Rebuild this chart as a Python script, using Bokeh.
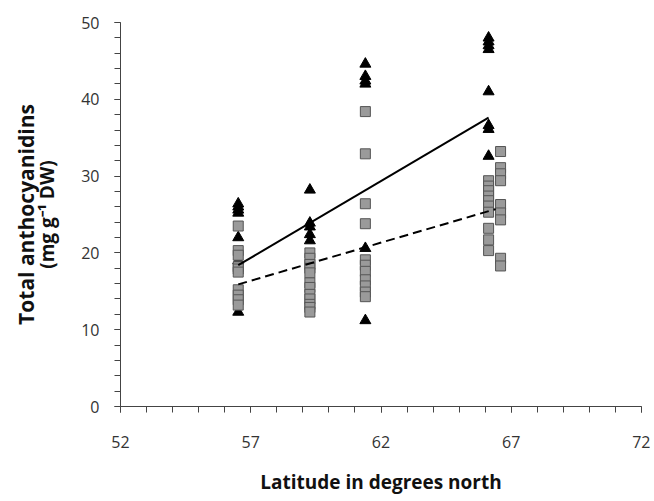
from bokeh.plotting import figure
from bokeh.models import Range1d, FixedTicker, SingleIntervalTicker, LinearAxis
from bokeh.embed import file_html
from bokeh.resources import INLINE

# ---- data ----
lat_sites = [56.52, 59.27, 61.40, 66.13]
lat_sq_right = 66.59

tri_col1 = [26.4, 26.0, 25.6, 25.2, 22.0, 19.0, 12.3]
tri_col2 = [28.2, 23.9, 23.4, 22.4, 21.6]
tri_col3 = [44.6, 43.0, 42.4, 42.0, 20.6, 11.2]
tri_col4 = [48.0, 47.5, 47.0, 46.5, 41.0, 36.6, 36.1, 32.6]

sq_col1 = [23.5, 20.3, 19.7, 18.2, 17.9, 17.5, 15.2, 14.5, 13.9, 13.2]
sq_col2 = [20.0, 19.3, 18.5, 18.0, 17.4, 16.1, 15.5, 14.6, 14.0, 13.3, 12.9, 12.3]
sq_col3 = [38.4, 32.9, 26.4, 23.8, 19.1, 18.4, 17.6, 16.5, 15.7, 14.9, 14.3]
sq_col4a = [29.4, 28.7, 28.1, 27.4, 26.8, 26.1, 25.3, 23.2, 21.7, 20.3]
sq_col4b = [33.2, 31.1, 30.3, 29.4, 26.3, 25.2, 24.3, 19.3, 18.3]

trend_tri_x = [56.52, 66.13]
trend_tri_y = [18.4, 37.6]
trend_sq_x = [56.52, 66.40]
trend_sq_y = [15.9, 25.7]

x_major_ticks = [52, 57, 62, 67, 72]
x_label = "Latitude in degrees north"
y_label_line1 = "Total anthocyanidins"
y_label_line2 = "(mg g\u207b\u00b9 DW)"

FONT = "Open Sans"

tri_x, tri_y = [], []
for lat, col in zip(lat_sites, [tri_col1, tri_col2, tri_col3, tri_col4]):
    tri_x += [lat] * len(col)
    tri_y += col

sq_x, sq_y = [], []
for lat, col in zip(lat_sites + [lat_sq_right], [sq_col1, sq_col2, sq_col3, sq_col4a, sq_col4b]):
    sq_x += [lat] * len(col)
    sq_y += col

p = figure(width=650, height=497, output_backend="svg", toolbar_location=None,
           x_range=Range1d(52, 72), y_range=Range1d(0, 50),
           min_border_left=120, min_border_right=9, min_border_top=22, min_border_bottom=87)
p.outline_line_color = None
p.xgrid.visible = False
p.ygrid.visible = False
p.background_fill_color = "white"
p.border_fill_color = "white"

# markers: triangles underneath squares
p.scatter(tri_x, tri_y, marker="triangle", size=11, fill_color="black", line_color="black")
p.scatter(sq_x, sq_y, marker="square", size=10, fill_color="#9a9a9a", line_color="#555555", line_width=1)

p.line(trend_tri_x, trend_tri_y, line_color="black", line_width=2)
p.line(trend_sq_x, trend_sq_y, line_color="black", line_width=2, line_dash="9 5")

# axes
xa = p.xaxis[0]
xa.ticker = FixedTicker(ticks=x_major_ticks, minor_ticks=list(range(52, 73)))
ya = p.yaxis[0]
ya.ticker = SingleIntervalTicker(interval=10, num_minor_ticks=5)
for ax in (xa, ya):
    ax.axis_line_color = "#444444"
    ax.major_tick_line_color = "#444444"
    ax.minor_tick_line_color = "#444444"
    ax.major_tick_in = 0
    ax.minor_tick_in = 0
    ax.major_tick_out = 6
    ax.minor_tick_out = 6
    ax.major_label_text_font = FONT
    ax.major_label_text_font_size = "16px"
    ax.major_label_text_color = "#333333"
    ax.axis_label_text_font = FONT
    ax.axis_label_text_font_style = "bold"
    ax.axis_label_text_color = "#111111"
xa.major_label_standoff = 23
ya.major_label_standoff = 15

xa.axis_label = x_label
xa.axis_label_text_font_size = "19px"
xa.axis_label_standoff = 18

ya.axis_label = y_label_line2
ya.axis_label_text_font_size = "19px"
ya.axis_label_standoff = 18

ya2 = LinearAxis(ticker=FixedTicker(ticks=[]), axis_label=y_label_line1,
                 axis_line_color=None, major_tick_line_color=None, minor_tick_line_color=None,
                 major_tick_out=0, minor_tick_out=0, major_label_standoff=0,
                 axis_label_standoff=-8, axis_label_text_font=FONT,
                 axis_label_text_font_style="bold", axis_label_text_font_size="21px",
                 axis_label_text_color="#111111")
p.add_layout(ya2, "left")

open("out.html", "w").write(file_html(p, INLINE))
